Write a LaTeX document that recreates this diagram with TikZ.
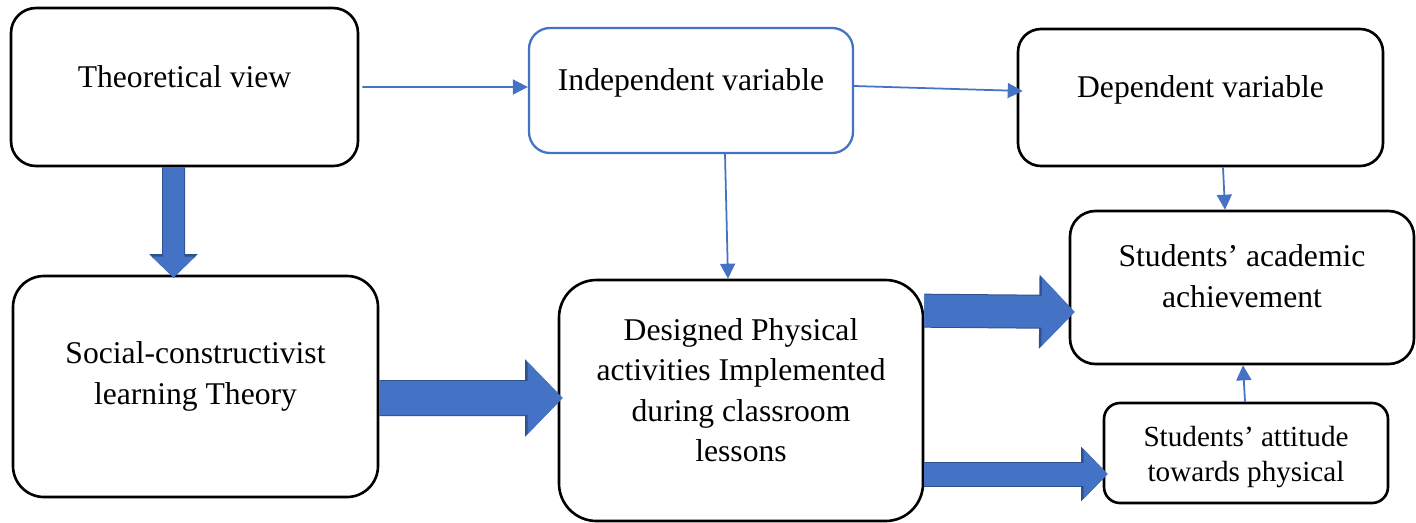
\documentclass[tikz,border=0pt]{standalone}
\usepackage{fontspec}
\setmainfont{Liberation Serif}
\usepackage{xcolor}
\usetikzlibrary{arrows.meta}
\definecolor{wordblue}{HTML}{4472C4}
\definecolor{wordedge}{HTML}{2F528F}

\begin{document}
\begin{tikzpicture}[
	box/.style = {draw=black, line width=1.5pt, fill=white},
	bluebox/.style = {draw=wordblue, line width=1.3pt, fill=white},
	txt/.style = {font=\fontsize{18}{23}\selectfont, align=center},
	smalltxt/.style = {font=\fontsize{16.6}{20}\selectfont, align=center},
	thinarrow/.style = {draw=wordblue, line width=1pt, -{Triangle[length=0.3cm,width=0.3cm]}},
	fatedge/.style = {draw=wordedge},
	fatarrow/.style = {draw=wordblue}
	]
	\useasboundingbox (0,0) rectangle (28.32,-10.44);
	% boxes
	\node[box, rounded corners=0.5cm, minimum width=6.94cm, minimum height=3.16cm] (theory) at (3.69,-1.74) {};
	\node[bluebox, rounded corners=0.42cm, minimum width=6.48cm, minimum height=2.5cm] (indep) at (13.82,-1.81) {};
	\node[box, rounded corners=0.46cm, minimum width=7.3cm, minimum height=2.74cm] (dep) at (24.01,-1.95) {};
	\node[box, rounded corners=0.51cm, minimum width=6.88cm, minimum height=3.06cm] (acad) at (24.84,-5.75) {};
	\node[box, rounded corners=0.62cm, minimum width=7.3cm, minimum height=4.42cm] (social) at (3.91,-7.73) {};
	\node[box, rounded corners=0.75cm, minimum width=7.28cm, minimum height=4.82cm] (design) at (14.82,-8.01) {};
	\node[box, rounded corners=0.32cm, minimum width=5.68cm, minimum height=2cm] (attit) at (24.92,-9.06) {};
	% texts
	\node[txt] (theorytext) at ([yshift=0.21cm]theory.center) {Theoretical view};
	\node[txt] (indeptext) at ([yshift=0.16cm]indep.center) {Independent variable};
	\node[txt] (deptext) at ([yshift=0.15cm]dep.center) {Dependent variable};
	\node[txt] (acadtext) at ([yshift=0.23cm]acad.center) {Students’ academic\\achievement};
	\node[txt] (socialtext) at ([yshift=0.2cm]social.center) {Social-constructivist\\learning Theory};
	\node[txt] (designtext) at ([yshift=0.21cm]design.center) {Designed Physical\\activities Implemented\\during classroom\\lessons};
	\node[smalltxt] (attittext) at ([yshift=-0.08cm]attit.center) {Students’ attitude\\towards physical};
	% thin arrows
	\draw[thinarrow] ([xshift=0.06cm]theory.east) -- ([yshift=0.07cm]indep.west);
	\draw[thinarrow] ([yshift=0.09cm]indep.east) -- ([xshift=0.12cm,yshift=0.13cm]dep.west);
	\draw[thinarrow] ([xshift=0.68cm]indep.south) -- ([xshift=-0.26cm]design.north);
	\draw[thinarrow] ([xshift=0.45cm]dep.south) -- ([xshift=-0.34cm]acad.north);
	\draw[thinarrow] ([xshift=-0.02cm]attit.north) -- ([xshift=0.02cm]acad.south);
	% block arrows (dark edge first, blue on top)
	\draw[fatedge, line width=0.46cm, -{Triangle[length=0.47cm,width=0.94cm]}] ([xshift=-0.22cm]theory.south) -- ([xshift=-0.44cm,yshift=-0.06cm]social.north);
	\draw[fatarrow, line width=0.42cm, -{Triangle[length=0.42cm,width=0.84cm]}] ([xshift=-0.22cm]theory.south) -- ([xshift=-0.44cm,yshift=-0.06cm]social.north);
	\draw[fatedge, line width=0.72cm, -{Triangle[length=0.75cm,width=1.5cm]}] ([yshift=-0.23cm]social.east) -- ([xshift=0.1cm,yshift=0.05cm]design.west);
	\draw[fatarrow, line width=0.68cm, -{Triangle[length=0.7cm,width=1.4cm]}] ([yshift=-0.23cm]social.east) -- ([xshift=0.1cm,yshift=0.05cm]design.west);
	\draw[fatedge, line width=0.68cm, -{Triangle[length=0.71cm,width=1.44cm]}] ([yshift=-0.64cm]design.north east) -- ([xshift=0.12cm,yshift=-0.49cm]acad.west);
	\draw[fatarrow, line width=0.64cm, -{Triangle[length=0.66cm,width=1.34cm]}] ([yshift=-0.64cm]design.north east) -- ([xshift=0.12cm,yshift=-0.49cm]acad.west);
	\draw[fatedge, line width=0.5cm, -{Triangle[length=0.53cm,width=1.06cm]}] ([yshift=-1.47cm]design.east) -- ([xshift=0.1cm,yshift=-0.42cm]attit.west);
	\draw[fatarrow, line width=0.46cm, -{Triangle[length=0.48cm,width=0.96cm]}] ([yshift=-1.47cm]design.east) -- ([xshift=0.1cm,yshift=-0.42cm]attit.west);
\end{tikzpicture}
\end{document}
